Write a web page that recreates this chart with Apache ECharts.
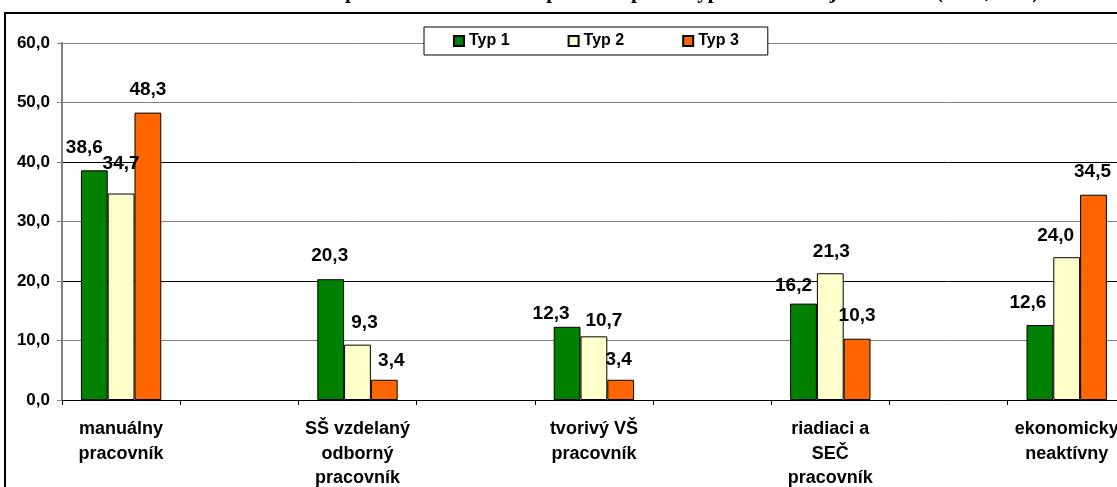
<!DOCTYPE html>
<html>
<head>
<meta charset="utf-8">
<script src="https://cdn.jsdelivr.net/npm/echarts@6/dist/echarts.min.js"></script>
<style>
  html, body { margin: 0; padding: 0; overflow: hidden; background: #fff; }
  #main { width: 1260px; height: 487px; }
</style>
</head>
<body>
<div id="main"></div>
<script>
// kategórie (v grafe je medzi každou prázdny stĺpec)
const categories = [
  'manuálny\npracovník',
  'SŠ vzdelaný\nodborný\npracovník',
  'tvorivý VŠ\npracovník',
  'riadiaci a\nSEČ\npracovník',
  'ekonomicky\nneaktívny'
];
const seriesNames = ['Typ 1', 'Typ 2', 'Typ 3'];
const typ1 = [38.6, 20.3, 12.3, 16.2, 12.6];
const typ2 = [34.7, 9.3, 10.7, 21.3, 24.0];
const typ3 = [48.3, 3.4, 3.4, 10.3, 34.5];
const yMin = 0, yMax = 60, yStep = 10;

const colors = ['#008000', '#FFFFCC', '#FF6600'];
// posuny popisiek tak, ako boli ručne posunuté v originále
const labelNudge = [
  [[-10, 0], [-1, -1], [-16, 9], [-10, 5], [-12, 0]],
  [[0, -7], [7, 1], [10, 7], [1, 1], [-11, 1]],
  [[0, 0], [7, 3], [-2, 2], [0, 0], [-1, 0]]
];

function withGaps(arr, blank) {
  var out = [];
  arr.forEach(function (v) { out.push(v); out.push(blank); });
  return out;
}

function fmt(v) {
  return Number(v).toFixed(1).replace('.', ',');
}

var chart = echarts.init(document.getElementById('main'));

var series = [typ1, typ2, typ3].map(function (vals, s) {
  var data = [];
  vals.forEach(function (v, i) {
    data.push({ value: v, label: { offset: labelNudge[s][i] } });
    data.push(null);
  });
  return {
    name: seriesNames[s],
    type: 'bar',
    data: data,
    barGap: '0%',
    barCategoryGap: '32%',
    itemStyle: { color: colors[s], borderColor: '#000', borderWidth: 1 },
    label: {
      show: true,
      position: 'top',
      distance: 13,
      color: '#000',
      fontFamily: 'Liberation Sans',
      fontWeight: 'bold',
      fontSize: 19,
      lineHeight: 19,
      formatter: function (p) { return p.value == null ? '' : fmt(p.value); }
    }
  };
});

var option = {
  backgroundColor: '#fff',
  animation: false,
  graphic: [
    {
      type: 'rect',
      z: 100,
      shape: { x: 5, y: 13, width: 2000, height: 1000 },
      style: { fill: 'none', stroke: '#000', lineWidth: 2 }
    },
    {
      type: 'text',
      x: 591,
      y: -7,
      style: {
        text: 'Profesná štruktúra respondenta a súčasného partnera podľa typu hodnotovej orientácie (2005, v %)',
        font: 'bold 21px "Liberation Serif"',
        fill: '#000',
        align: 'center',
        verticalAlign: 'middle'
      }
    }
  ],
  legend: {
    left: 424,
    top: 27,
    padding: [6, 29],
    itemGap: 58,
    itemWidth: 10,
    itemHeight: 10,
    backgroundColor: '#fff',
    borderColor: '#000',
    borderWidth: 1,
    icon: 'rect',
    textStyle: { fontFamily: 'Liberation Sans', fontWeight: 'bold', fontSize: 16, color: '#000' },
    data: seriesNames
  },
  grid: { left: 62, top: 43, bottom: 87, right: 16, outerBoundsMode: 'none', containLabel: false },
  xAxis: {
    type: 'category',
    data: withGaps(categories, ''),
    axisLine: { lineStyle: { color: '#000', width: 1 } },
    axisTick: { show: true, length: 5, lineStyle: { color: '#000' } },
    axisLabel: {
      interval: 0,
      margin: 17,
      color: '#000',
      fontFamily: 'Liberation Sans',
      fontWeight: 'bold',
      fontSize: 18,
      lineHeight: 24.5
    }
  },
  yAxis: {
    type: 'value',
    min: yMin,
    max: yMax,
    interval: yStep,
    axisLine: { show: true, lineStyle: { color: '#808080', width: 2 } },
    axisTick: { show: true, length: 5, lineStyle: { color: '#808080' } },
    axisLabel: {
      margin: 12,
      color: '#000',
      fontFamily: 'Liberation Sans',
      fontWeight: 'bold',
      fontSize: 17,
      formatter: fmt
    },
    splitLine: {
      lineStyle: { color: ['#000', '#808080', '#000', '#808080', '#000', '#808080', '#808080'], width: 1 }
    }
  },
  series: series
};

chart.setOption(option);
</script>
</body>
</html>
